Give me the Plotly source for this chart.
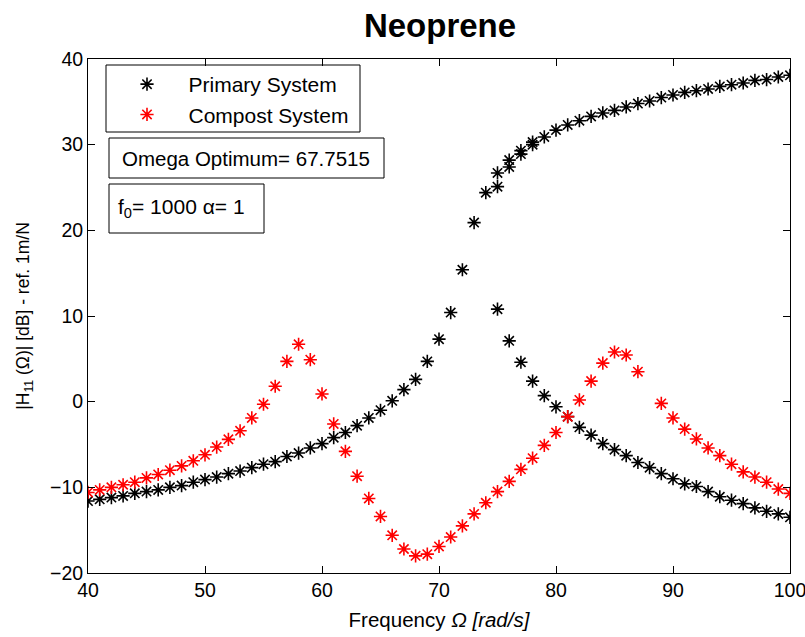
import plotly.graph_objects as go

# ---------------- data ----------------
primary_low_freq = list(range(40, 75))
primary_low = [-11.6, -11.4, -11.2, -11.0, -10.7, -10.5, -10.3, -10.0, -9.8, -9.4,
               -9.1, -8.8, -8.4, -8.1, -7.7, -7.3, -7.0, -6.4, -6.0, -5.4,
               -4.9, -4.2, -3.6, -2.8, -1.9, -1.0, 0.1, 1.4, 2.6, 4.7,
               7.3, 10.4, 15.4, 20.9, 24.4]

primary_high_freq = [75, 75, 76, 76, 77, 77, 78, 78, 79, 80, 81, 82, 83, 84, 85, 86, 87,
                     88, 89, 90, 91, 92, 93, 94, 95, 96, 97, 98, 99, 100]
primary_high = [25.1, 26.7, 27.4, 28.2, 28.9, 29.3, 30.0, 30.3, 30.9, 31.7, 32.3, 32.8,
                33.3, 33.7, 34.0, 34.4, 34.8, 35.1, 35.5, 35.8, 36.1, 36.3, 36.5, 36.8,
                37.0, 37.2, 37.5, 37.6, 37.9, 38.1]

primary_fall_freq = list(range(75, 101))
primary_fall = [10.8, 7.1, 4.6, 2.4, 0.7, -0.6, -1.75, -3.0, -3.9, -4.9, -5.6, -6.3,
                -7.1, -7.7, -8.4, -9.0, -9.6, -9.9, -10.5, -11.1, -11.5, -11.9, -12.4,
                -12.8, -13.1, -13.5]

compost_freq = list(range(40, 88)) + list(range(89, 101))
compost = [-10.6, -10.3, -10.0, -9.7, -9.4, -8.9, -8.5, -8.0, -7.5, -6.9,
           -6.2, -5.3, -4.4, -3.4, -1.9, -0.3, 1.8, 4.7, 6.7, 4.9,
           0.9, -2.6, -5.8, -8.7, -11.3, -13.4, -15.6, -17.2, -18.0, -17.8,
           -16.9, -15.8, -14.5, -13.1, -11.8, -10.5, -9.3, -7.9, -6.6, -5.1,
           -3.6, -1.75, 0.2, 2.4, 4.5, 5.8, 5.45, 3.5,
           -0.2, -1.9, -3.2, -4.35, -5.4, -6.3, -7.3, -8.2, -8.8, -9.4, -10.2, -10.7]

x_ticks = [40, 50, 60, 70, 80, 90, 100]
y_ticks = [-20, -10, 0, 10, 20, 30, 40]

title_text = "Neoprene"
x_label = "Frequency <i>Ω [rad/s]</i>"
y_label = "|H<sub>11</sub> (Ω)| [dB] - ref. 1m/N"
omega_text = "Omega Optimum= 67.7515"
param_text = "f<sub>0</sub>= 1000 α= 1"

# ---------------- layout geometry ----------------
W, H = 805, 637
L, R, T, B = 88, 790, 59, 573
FONT = "Liberation Sans, Arial, Helvetica, sans-serif"


def px(x):
    return (x - L) / (R - L)


def py(y):
    return (B - y) / (B - T)


primary_x = primary_low_freq + primary_high_freq + primary_fall_freq
primary_y = primary_low + primary_high + primary_fall

marker_common = dict(symbol="asterisk-open", size=11)

fig = go.Figure()
fig.add_trace(go.Scatter(
    x=primary_x, y=primary_y, mode="markers", name="Primary System",
    marker=dict(**marker_common, color="black", line=dict(width=1.6, color="black")),
))
fig.add_trace(go.Scatter(
    x=compost_freq, y=compost, mode="markers", name="Compost System",
    marker=dict(**marker_common, color="#ff0000", line=dict(width=1.6, color="#ff0000")),
))

axis_common = dict(
    showline=True, linecolor="black", linewidth=1, mirror="allticks",
    ticks="inside", ticklen=7, tickwidth=1, tickcolor="black",
    showgrid=False, zeroline=False, ticklabeloverflow="allow", automargin=False,
    tickfont=dict(family=FONT, size=19.5, color="black"),
)

fig.update_layout(
    width=W, height=H,
    margin=dict(l=L, r=W - R, t=T, b=H - B, pad=0, autoexpand=False),
    paper_bgcolor="white", plot_bgcolor="white",
    font=dict(family=FONT, size=19, color="black"),
    title=dict(text="<b>" + title_text + "</b>", x=px(440), xref="paper", xanchor="center",
               y=1 - 25 / H, yref="container", yanchor="middle",
               font=dict(family=FONT, size=33, color="black")),
    xaxis=dict(range=[40, 100], tickvals=x_ticks, **axis_common,
               title=dict(text=x_label, font=dict(family=FONT, size=20.5), standoff=12)),
    yaxis=dict(range=[-20, 40], tickvals=y_ticks, **axis_common,
               title=dict(text=y_label, font=dict(family=FONT, size=17.5), standoff=15)),
    showlegend=True,
    legend=dict(x=px(105.5), y=py(64), xanchor="left", yanchor="top",
                bgcolor="rgba(0,0,0,0)", borderwidth=0, itemwidth=73,
                font=dict(family=FONT, size=21, color="black")),
    shapes=[
        dict(type="rect", xref="paper", yref="paper", x0=px(106), x1=px(360), y0=py(132), y1=py(65),
             line=dict(color="black", width=1), fillcolor="rgba(0,0,0,0)", layer="above"),
        dict(type="rect", xref="paper", yref="paper", x0=px(109), x1=px(384), y0=py(178), y1=py(138),
             line=dict(color="black", width=1), fillcolor="rgba(0,0,0,0)", layer="above"),
        dict(type="rect", xref="paper", yref="paper", x0=px(109), x1=px(264), y0=py(233), y1=py(184),
             line=dict(color="black", width=1), fillcolor="rgba(0,0,0,0)", layer="above"),
    ],
    annotations=[
        dict(text=omega_text, xref="paper", yref="paper", x=px(120), y=py(158),
             xanchor="left", yanchor="middle", showarrow=False,
             font=dict(family=FONT, size=20.5, color="black")),
        dict(text=param_text, xref="paper", yref="paper", x=px(116), y=py(208),
             xanchor="left", yanchor="middle", showarrow=False,
             font=dict(family=FONT, size=21, color="black")),
    ],
)

fig.write_html("out.html")
